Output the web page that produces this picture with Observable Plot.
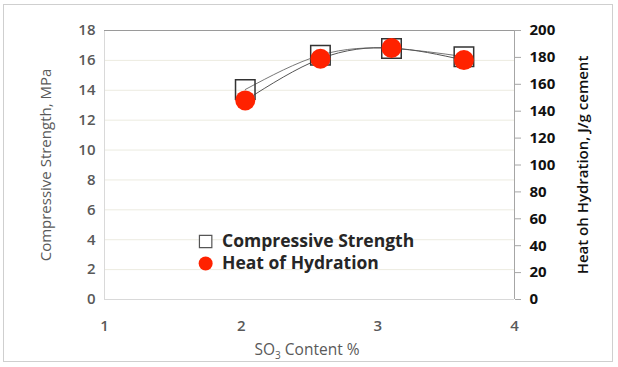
<!DOCTYPE html>
<html><head><meta charset="utf-8">
<script src="https://cdn.jsdelivr.net/npm/d3@7"></script>
<script src="https://cdn.jsdelivr.net/npm/@observablehq/plot@0.6"></script>
<style>
html,body{margin:0;padding:0;background:#fff;}
#wrap{position:relative;width:618px;height:367px;}
#frame{position:absolute;left:3px;top:4px;width:608px;height:356px;border:1px solid #cfcfcf;pointer-events:none;}
</style></head>
<body><div id="wrap"><div id="frame"></div></div>
<script>
const so3 = [2.03, 2.58, 3.10, 3.63];
const strength = [14.05, 16.35, 16.8, 16.25];
const heat = [148, 179, 187, 178];
const xTicks = [1, 2, 3, 4];
const leftTicks = [0, 2, 4, 6, 8, 10, 12, 14, 16, 18];
const rightTicks = [0, 20, 40, 60, 80, 100, 120, 140, 160, 180, 200];
const legendItems = ["Compressive Strength", "Heat of Hydration"];
const titles = {left: "Compressive Strength, MPa", right: "Heat oh Hydration, J/g cement", bottom: "SO", sub: "3", bottomRest: " Content %"};

const k = 18 / 200;
const sData = so3.map((x, i) => ({x, y: strength[i]}));
const hData = so3.map((x, i) => ({x, y: heat[i] * k}));
const font = "'Open Sans', sans-serif";

const chart = Plot.plot({
  width: 618, height: 367,
  marginLeft: 104, marginRight: 104, marginTop: 30, marginBottom: 68,
  style: {fontFamily: font, background: "transparent"},
  x: {domain: [1, 4]},
  y: {domain: [0, 18]},
  marks: [
    Plot.gridY(leftTicks, {stroke: "#ecebe0", strokeOpacity: 1}),
    Plot.ruleY([0], {stroke: "#d9d9d9"}),
    Plot.ruleX([1], {stroke: "#d9d9d9"}),
    Plot.ruleY([18], {stroke: "#9a9a9a"}),
    Plot.ruleX([4], {stroke: "#a6a6a6"}),
    Plot.axisY({ticks: leftTicks, tickSize: 0, tickPadding: 9, fontSize: 15, fontWeight: 600, fill: "#595959", label: null}),
    Plot.axisY({anchor: "right", ticks: rightTicks.map(v => v * k), tickFormat: d => String(Math.round(d / k)),
      tickSize: 6, stroke: "#a6a6a6", tickPadding: 9, fontSize: 15, fontWeight: 700, fill: "#111", label: null}),
    Plot.axisX({ticks: xTicks, tickFormat: d3.format("d"), tickSize: 0, tickPadding: 21, fontSize: 15, fontWeight: 600, fill: "#595959", label: null}),
    Plot.line(sData, {x: "x", y: "y", curve: "natural", stroke: "#777", strokeWidth: 1}),
    Plot.line(hData, {x: "x", y: "y", curve: "natural", stroke: "#555", strokeWidth: 1}),
    Plot.dot(sData, {x: "x", y: "y", symbol: "square", r: 11, stroke: "#333", strokeWidth: 1.5, fill: "none"}),
    Plot.dot(hData, {x: "x", y: "y", r: 10, fill: "#ff2200", stroke: "none"}),
    Plot.dot([{x: 1.74, y: 3.88}], {x: "x", y: "y", symbol: "square", r: 7, stroke: "#555", strokeWidth: 1.2, fill: "#fff"}),
    Plot.dot([{x: 1.74, y: 2.41}], {x: "x", y: "y", r: 7, fill: "#ff2200"}),
    Plot.text([{x: 1.86, y: 3.88, t: legendItems[0]}, {x: 1.86, y: 2.41, t: legendItems[1]}],
      {x: "x", y: "y", text: "t", textAnchor: "start", fontSize: 17.5, fontWeight: 700, fill: "#262626", letterSpacing: "0.2px"})
  ]
});
chart.style.position = "absolute";
chart.style.left = "0px";
chart.style.top = "0px";
const svg = d3.select(chart);
svg.append("text").attr("transform", "translate(51,165) rotate(-90)").attr("text-anchor", "middle")
  .attr("font-size", 15).attr("font-weight", 500).attr("fill", "#595959").attr("font-family", font).text(titles.left);
svg.append("text").attr("transform", "translate(588,165) rotate(-90)").attr("text-anchor", "middle")
  .attr("font-size", 15).attr("font-weight", 600).attr("fill", "#111").attr("font-family", font).text(titles.right);
const bt = svg.append("text").attr("x", 307).attr("y", 355).attr("text-anchor", "middle")
  .attr("font-size", 15.5).attr("font-weight", 500).attr("fill", "#595959").attr("font-family", font);
bt.append("tspan").text(titles.bottom);
bt.append("tspan").attr("font-size", 10).attr("dy", 4).text(titles.sub);
bt.append("tspan").attr("dy", -4).text(titles.bottomRest);
document.getElementById("wrap").prepend(chart);
</script>
</body></html>
